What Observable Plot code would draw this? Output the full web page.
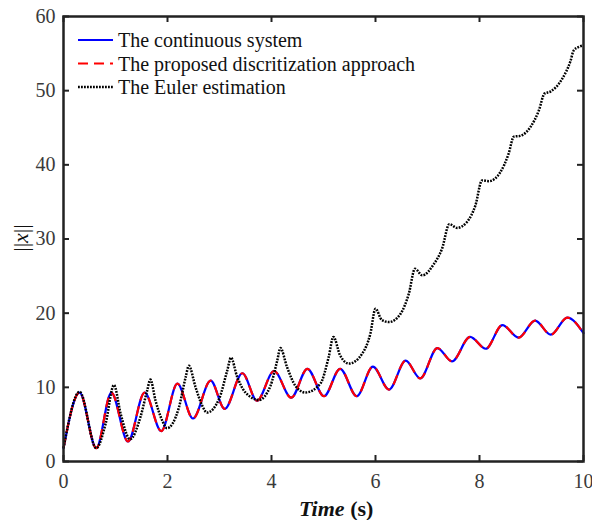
<!DOCTYPE html>
<html><head><meta charset="utf-8">
<script src="https://cdn.jsdelivr.net/npm/d3@7"></script>
<script src="https://cdn.jsdelivr.net/npm/@observablehq/plot@0.6"></script>
<style>
body{margin:0;background:#fff;}
#wrap{position:relative;width:592px;height:520px;}
#legend{position:absolute;left:0;top:0;pointer-events:none;}
</style></head><body><div id="wrap"></div>
<script>
// ---- data ----
const xTicks = [0, 2, 4, 6, 8, 10];
const yTicks = [0, 10, 20, 30, 40, 50, 60];
const legendLabels = ["The continuous system", "The proposed discritization approach", "The Euler estimation"];

const continuousT = [0,0.31,0.63,0.92,1.24,1.56,1.88,2.19,2.49,2.83,3.10,3.44,3.72,4.05,4.38,4.69,5.01,5.32,5.64,5.95,6.26,6.58,6.86,7.19,7.47,7.82,8.12,8.44,8.75,9.07,9.37,9.69,10];
const continuousV = [1.8,9.3,1.8,9.3,2.7,9.3,4.1,10.5,5.8,10.9,7.1,11.9,8.2,12.2,8.6,12.5,8.8,12.5,8.8,12.8,9.7,13.6,11.2,15.3,13.5,16.8,15.2,18.4,16.7,19.0,17.1,19.4,17.3];

const proposedT = [0,0.31,0.63,0.92,1.24,1.56,1.88,2.19,2.49,2.83,3.10,3.44,3.72,4.05,4.38,4.69,5.01,5.32,5.64,5.95,6.26,6.58,6.86,7.19,7.47,7.82,8.12,8.44,8.75,9.07,9.37,9.69,10];
const proposedV = [1.8,9.3,1.8,9.3,2.7,9.3,4.1,10.5,5.8,10.9,7.1,11.9,8.2,12.2,8.6,12.5,8.8,12.5,8.8,12.8,9.7,13.6,11.2,15.3,13.5,16.8,15.2,18.4,16.7,19.0,17.1,19.4,17.3];

const eulerT = [0,0.31,0.63,0.81,0.97,1.10,1.28,1.48,1.61,1.67,1.77,1.90,1.99,2.22,2.35,2.41,2.54,2.67,2.76,2.99,3.15,3.22,3.34,3.50,3.76,3.98,4.11,4.17,4.30,4.46,4.65,4.94,5.10,5.19,5.32,5.49,5.74,5.90,6.00,6.12,6.26,6.48,6.64,6.76,6.90,7.12,7.28,7.42,7.57,7.76,7.92,8.05,8.18,8.40,8.56,8.66,8.78,8.98,9.14,9.25,9.37,9.59,9.75,9.81,9.91,10];
const eulerV = [1.8,9.4,1.8,5.1,10.3,6.4,3.0,6.0,9.6,11.05,8.2,5.5,4.5,7.3,11.4,12.9,10.0,7.5,6.6,8.4,12.3,14.0,11.4,9.3,8.3,10.2,13.6,15.3,12.7,10.2,9.3,10.5,14.1,16.8,14.3,13.2,14.5,17.2,20.6,19.1,18.8,19.9,22.6,26.0,25.1,26.6,28.7,32.0,31.5,32.3,34.5,37.9,37.8,39.0,41.5,43.8,43.9,45.1,47.3,49.6,49.9,51.6,54.0,55.4,55.9,56.1];

const seriesColors = ["#0000ff", "#ff0000", "#000000"];

// ---- build ----
const W = 592, H = 520, mL = 63, mR = 9, mT = 16, mB = 59;
const innerW = W - mL - mR, innerH = H - mT - mB;
const toRows = (T, V) => T.map((t, i) => ({t, v: V[i]}));
const cont = toRows(continuousT, continuousV);
const prop = toRows(proposedT, proposedV);
const euler = toRows(eulerT, eulerV);
const font = "'Liberation Serif', 'Times New Roman', serif";
const tickCol = "#3a3a3a";
const frameCol = "#222";
const redDash = "10,6";
const dotDash = "1.8,1.2";

const chart = Plot.plot({
  width: W, height: H,
  marginLeft: mL, marginRight: mR, marginTop: mT, marginBottom: mB,
  style: {fontFamily: font, fontSize: "20px", background: "#fff", overflow: "visible"},
  x: {domain: [0, 10]},
  y: {domain: [0, 60]},
  marks: [
    Plot.line(cont, {x: "t", y: "v", stroke: seriesColors[0], strokeWidth: 2.2, curve: "monotone-x"}),
    Plot.line(prop, {x: "t", y: "v", stroke: seriesColors[1], strokeWidth: 2.2, strokeDasharray: redDash, strokeLinecap: "butt", curve: "monotone-x"}),
    Plot.line(euler, {x: "t", y: "v", stroke: seriesColors[2], strokeWidth: 2.5, strokeDasharray: dotDash, strokeLinecap: "butt", curve: "monotone-x"}),
    Plot.tickX(xTicks, {x: d => d, insetTop: innerH - 6, stroke: frameCol, strokeWidth: 2}),
    Plot.tickX(xTicks, {x: d => d, insetBottom: innerH - 6, stroke: frameCol, strokeWidth: 2}),
    Plot.tickY(yTicks, {y: d => d, insetRight: innerW - 6, stroke: frameCol, strokeWidth: 2}),
    Plot.tickY(yTicks, {y: d => d, insetLeft: innerW - 6, stroke: frameCol, strokeWidth: 2}),
    Plot.frame({stroke: frameCol, strokeWidth: 2.5}),
    Plot.axisX(xTicks, {tickSize: 0, tickPadding: 12, fill: tickCol, label: null, fontSize: 20, fontFamily: "Liberation Serif"}),
    Plot.axisY(yTicks, {tickSize: 0, tickPadding: 8, fill: tickCol, label: null, fontSize: 20, fontFamily: "Liberation Serif"})
  ]
});
document.getElementById("wrap").appendChild(chart);

const svg = d3.select(chart);
svg.selectAll("text").style("font-family", font);

// x-axis label: bold italic "Time" + bold "(s)"
const xl = svg.append("text").attr("x", 299).attr("y", 516).attr("text-anchor", "start")
  .style("font-family", font).attr("font-size", 22).attr("font-weight", "bold").attr("fill", "#111");
xl.append("tspan").attr("font-style", "italic").text("Time");
xl.append("tspan").text(" (s)");
// y-axis label: ||x|| with italic x
const yl = svg.append("text").attr("transform", "translate(28,238) rotate(-90)")
  .attr("text-anchor", "middle").style("font-family", font).attr("font-size", 22).attr("fill", "#111");
yl.append("tspan").text("||");
yl.append("tspan").attr("font-style", "italic").text("x");
yl.append("tspan").text("||");

// legend (inside the frame, top-left)
const lg = d3.select("#wrap").append("svg").attr("id", "legend").attr("width", W).attr("height", 120);
const rowY = [40, 63.5, 87];
const dashes = [null, redDash, dotDash];
const widths = [2.2, 2.2, 2.5];
legendLabels.forEach((lab, i) => {
  lg.append("line").attr("x1", 78).attr("x2", 113).attr("y1", rowY[i]).attr("y2", rowY[i])
    .attr("stroke", seriesColors[i]).attr("stroke-width", widths[i]).attr("stroke-dasharray", dashes[i]);
  lg.append("text").attr("x", 118).attr("y", rowY[i]).attr("dy", "0.35em")
    .style("font-family", font).attr("font-size", 20).attr("fill", "#111").text(lab);
});
</script></body></html>
